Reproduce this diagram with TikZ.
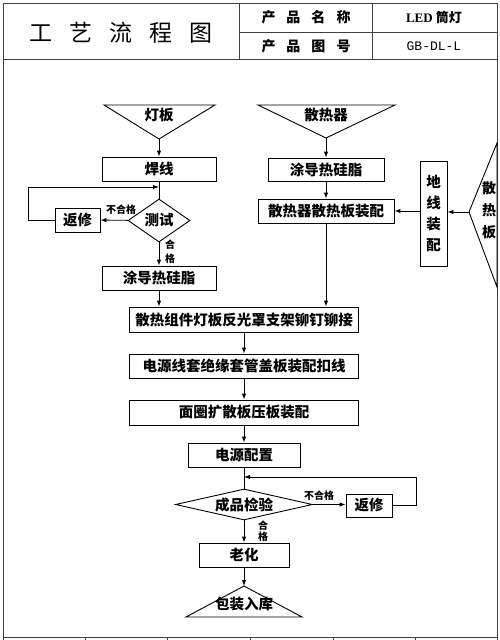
\documentclass[tikz,border=0pt]{standalone}
\usepackage{fontspec}
\setmainfont{Liberation Serif}
\setmonofont{Liberation Mono}
\newfontfamily\cjk{Noto Sans CJK SC}
\usetikzlibrary{shapes.geometric, arrows.meta, positioning, calc}
\newcommand{\gapx}[1]{\hspace{#1}}

\begin{document}
\begin{tikzpicture}[
    x=1pt, y=-1pt,
    box/.style={rectangle, draw, line width=0.9pt, inner sep=0pt, font=\cjk\bfseries\fontsize{14.5}{15}\selectfont},
    dmd/.style={diamond, draw, line width=0.9pt, inner sep=0pt, font=\cjk\bfseries\fontsize{14.5}{15}\selectfont},
    tag/.style={inner sep=0pt, font=\cjk\bfseries\fontsize{10}{11}\selectfont},
    head/.style={inner sep=0pt, font=\cjk\bfseries\fontsize{14}{15}\selectfont},
    arr/.style={line width=0.9pt, -{Latex[length=6pt, width=4.5pt]}},
    link/.style={line width=0.9pt},
    frame/.style={line width=0.8pt, draw=black!75},
]
    \useasboundingbox (0,0) rectangle (500,640);
    % Table frame
    \draw[frame] (3,640) -- (3,3) -- (497,3) -- (497,640);
    \draw[frame] (3,59) -- (497,59);
    \draw[frame] (239,3) -- (239,59);
    \draw[frame] (372,3) -- (372,59);
    \draw[frame] (239,32) -- (497,32);
    \draw[frame] (3,637) -- (497,637);
    \foreach \x in {85,167,250,333,415} { \draw[frame] (\x,637) -- (\x,640); }
    % Header
    \node[inner sep=0pt, font=\cjk\fontsize{23}{24}\selectfont] (title) at (121,33)
        {工\gapx{17pt}艺\gapx{17pt}流\gapx{17pt}程\gapx{17pt}图};
    \node[head] (pname) at (306,17) {产\gapx{11pt}品\gapx{11pt}名\gapx{11pt}称};
    \node[head] (pcode) at (306,46) {产\gapx{11pt}品\gapx{11pt}图\gapx{11pt}号};
    \node[inner sep=0pt, font=\fontsize{13}{14}\selectfont\bfseries] (vname) at (434,17) {LED {\cjk 筒灯}};
    \node[inner sep=0pt, font=\ttfamily\fontsize{13}{14}\selectfont] (vcode) at (434,46) {GB-DL-L};

    % Left branch: lamp board
    \draw[link] (104,105) -- (215,105) -- (159,139) -- cycle;
    \coordinate (dbtip) at (159,139);
    \node[box, draw=none] (db) at (159,115) {灯板};
    \node[box, minimum width=114pt, minimum height=24pt] (hx) at (159,169) {焊线};
    \node[dmd, aspect=1.44, minimum width=62pt, minimum height=43pt] (cs) at (159,220.5) {测试};
    \node[box, minimum width=45pt, minimum height=24pt] (fx1) at (77.5,220) {返修};
    \node[box, minimum width=114pt, minimum height=24pt] (tl1) at (159,278) {涂导热硅脂};
    \coordinate (j1) at (159,187);
    \draw[arr] (dbtip) -- (hx);
    \draw[link] (hx) -- (cs);
    \draw[arr] (cs) -- (fx1);
    \node[tag] (ng1) at (121,210) {不合格};
    \draw[arr] (fx1.west) -- ++(-26,0) |- (j1);
    \draw[arr] (cs) -- (tl1);
    \node[tag, align=center, font=\cjk\bfseries\fontsize{10}{14}\selectfont] (ok1) at (170,252) {合\\格};

    % Right branch: heat sink
    \draw[link] (258,105) -- (395,105) -- (326,138) -- cycle;
    \coordinate (srtip) at (326,138);
    \node[box, draw=none] (sr) at (326,115) {散热器};
    \node[box, minimum width=116pt, minimum height=23pt] (tl2) at (326,169.5) {涂导热硅脂};
    \node[box, minimum width=136pt, minimum height=24pt] (zp1) at (326,211) {散热器散热板装配};
    \node[box, minimum width=27pt, minimum height=105pt, align=center, font=\cjk\bfseries\fontsize{14.5}{21}\selectfont] (dx) at (433.5,213.5) {地\\线\\装\\配};
    \draw[link] (469,212) -- (497,143) -- (497,287) -- cycle;
    \coordinate (rbtip) at (469,212);
    \node[box, draw=none, align=center, font=\cjk\bfseries\fontsize{14}{22}\selectfont] (rb) at (489,210) {散\\热\\板};
    \draw[arr] (srtip) -- (tl2);
    \draw[arr] (tl2) -- (zp1);
    \draw[arr] (rbtip) -- (dx.east |- rbtip);
    \draw[arr] (dx.west |- zp1) -- (zp1);

    % Main line
    \node[box, minimum width=229pt, minimum height=25pt] (mj) at (244,319.5) {散热组件灯板反光罩支架铆钉铆接};
    \node[box, minimum width=229pt, minimum height=24pt] (dyx) at (244,366) {电源线套绝缘套管盖板装配扣线};
    \node[box, minimum width=229pt, minimum height=25pt] (mq) at (244,412.5) {面圈扩散板压板装配};
    \node[box, minimum width=112pt, minimum height=24pt] (dy) at (244,455) {电源配置};
    \node[dmd, aspect=4.4, minimum width=137pt, minimum height=31pt] (cp) at (244,504.5) {成品检验};
    \node[box, minimum width=46pt, minimum height=23pt] (fx2) at (369,505.5) {返修};
    \node[box, minimum width=90pt, minimum height=24pt] (lh) at (244,555) {老化};
    \draw[link] (186,617) -- (302,617) -- (244,586) -- cycle;
    \coordinate (bztip) at (244,586);
    \node[box, draw=none] (bz) at (244,604) {包装入库};
    \coordinate (j2) at (244,477);
    \draw[arr] (tl1.south) -- (tl1.south |- mj.north);
    \draw[arr] (zp1.south) -- (zp1.south |- mj.north);
    \draw[arr] (mj) -- (dyx);
    \draw[arr] (dyx) -- (mq);
    \draw[arr] (mq) -- (dy);
    \draw[link] (dy) -- (cp);
    \draw[arr] (cp.east) -- (fx2.west |- cp.east);
    \node[tag] (ng2) at (319,496) {不合格};
    \draw[arr] (fx2.east) -- ++(24,0) |- (j2);
    \draw[arr] (cp) -- (lh);
    \node[tag, align=center, font=\cjk\bfseries\fontsize{10}{11.5}\selectfont] (ok2) at (263,531) {合\\格};
    \draw[arr] (lh) -- (bztip);
\end{tikzpicture}
\end{document}
